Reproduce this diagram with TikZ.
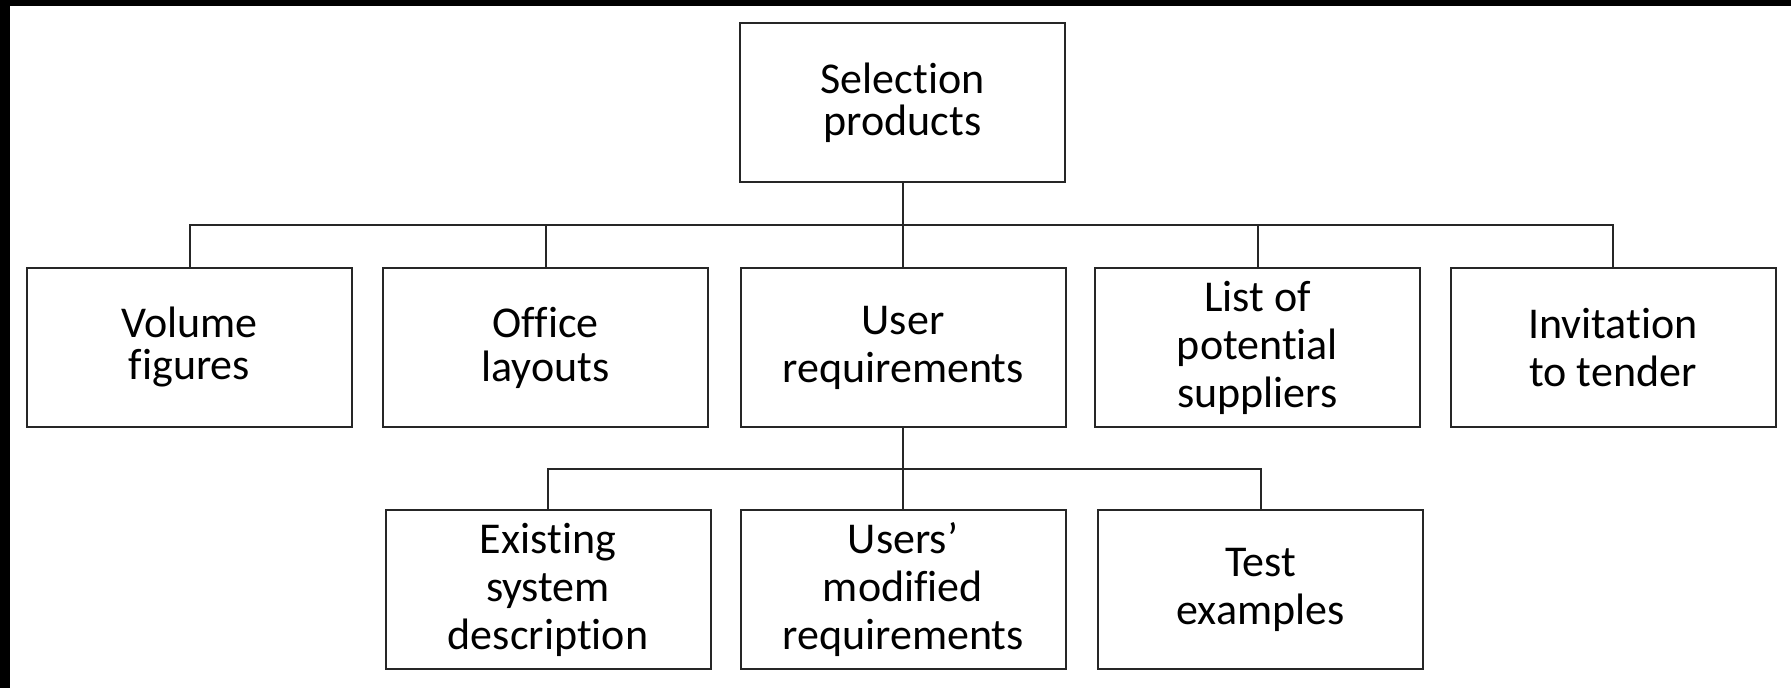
\documentclass[tikz,border=0pt]{standalone}
\usepackage{fontspec}
\setmainfont{Carlito}[RawFeature={-liga;-calt;-dlig}]
\begin{document}
\begin{tikzpicture}[x=0.5pt,y=-0.5pt,
  box/.style={draw=black!85,line width=1pt,rectangle,
    minimum width=162.5pt,minimum height=79.5pt,inner sep=0pt,
    align=center,font=\fontsize{22}{24}\selectfont},
  link/.style={draw=black!85,line width=1pt}]
% page and its dark edge bands
\useasboundingbox (0,0) rectangle (1791,688);
\fill[white] (0,0) rectangle (1791,688);
\fill[black] (0,0) rectangle (1791,6);
\fill[black] (0,0) rectangle (10,688);

% root
\node[box,font=\fontsize{22}{21}\selectfont] (sel) at (902.5,103) {Selection\\products};

% second level
\node[box,font=\fontsize{22}{21}\selectfont] (vol) at (189.5,347.5) {Volume\\figures};
\node[box,font=\fontsize{22}{22}\selectfont] (off) at (545.5,347.5) {Office\\layouts};
\node[box] (usr) at (903,347.5) {User\\requirements};
\node[box] (sup) at (1257.5,347.5) {List of\\potential\\suppliers};
\node[box] (inv) at (1613,347.5) {Invitation\\to tender};

% third level
\node[box] (exs) at (548,589.5) {Existing\\system\\description};
\node[box] (mod) at (903,589.5) {Users'\\modified\\requirements};
\node[box] (tst) at (1260.5,589.5) {Test\\examples};

% bus rows
\coordinate (busA) at (0,225);
\coordinate (busB) at (0,469);

% root to second level
\draw[link] (sel.south) -- (sel.south |- busA);
\draw[link] (vol.north) -- (vol.north |- busA) -- (inv.north |- busA) -- (inv.north);
\draw[link] (off.north) -- (off.north |- busA);
\draw[link] (usr.north) -- (usr.north |- busA);
\draw[link] (sup.north) -- (sup.north |- busA);

% user requirements to third level
\draw[link] (usr.south) -- (usr.south |- busB);
\draw[link] (exs.north) -- (exs.north |- busB) -- (tst.north |- busB) -- (tst.north);
\draw[link] (mod.north) -- (mod.north |- busB);
\end{tikzpicture}
\end{document}
